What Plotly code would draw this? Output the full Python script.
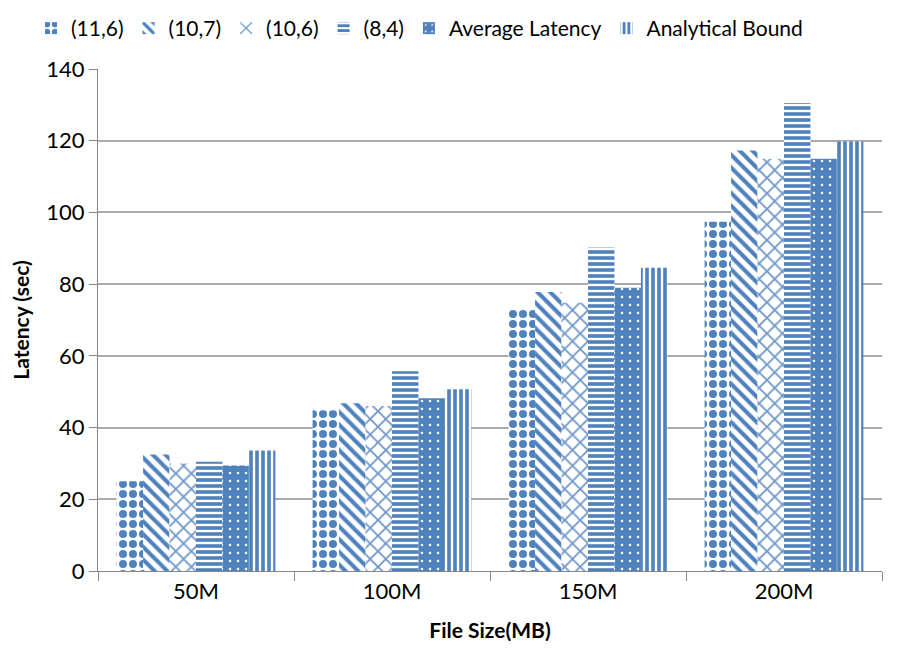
import plotly.graph_objects as go

categories = ["50M", "100M", "150M", "200M"]
series_names = ["(11,6)", "(10,7)", "(10,6)", "(8,4)", "Average Latency", "Analytical Bound"]
v_11_6 = [25.0, 44.8, 73.1, 97.4]
v_10_7 = [32.5, 46.8, 77.8, 117.3]
v_10_6 = [30.0, 46.0, 74.8, 115.0]
v_8_4 = [30.5, 55.7, 90.2, 130.5]
v_avg = [29.4, 48.2, 79.0, 115.0]
v_bound = [33.6, 50.7, 84.6, 119.8]
y_ticks = [0, 20, 40, 60, 80, 100, 120, 140]

BLUE = "#4f81bd"
values = [v_11_6, v_10_7, v_10_6, v_8_4, v_avg, v_bound]
patterns = [
    dict(shape=".", fgcolor=BLUE, bgcolor="white", size=10, solidity=0.5),
    dict(shape="\\", fgcolor=BLUE, bgcolor="white", size=9, solidity=0.45),
    dict(shape="x", fgcolor="#6f97c9", bgcolor="white", size=11, solidity=0.3),
    dict(shape="-", fgcolor=BLUE, bgcolor="white", size=6, solidity=0.6),
    dict(shape=".", fgcolor="white", bgcolor=BLUE, size=8, solidity=0.08),
    dict(shape="|", fgcolor=BLUE, bgcolor="white", size=6, solidity=0.6),
]

fig = go.Figure()
for name, vals, pat in zip(series_names, values, patterns):
    fig.add_trace(go.Bar(
        x=categories, y=vals, name=name,
        marker=dict(color=BLUE, line=dict(width=0), pattern=dict(fillmode="replace", **pat)),
    ))

font = "Lato, sans-serif"
fig.update_layout(
    width=920, height=670,
    barmode="group", bargap=0.19, bargroupgap=0,
    paper_bgcolor="white", plot_bgcolor="white",
    margin=dict(l=90, r=46, t=61, b=107, autoexpand=False),
    font=dict(family=font, size=22, color="black"),
    legend=dict(orientation="h", xref="container", yref="container", x=0.025, y=1.0,
                xanchor="left", yanchor="top", font=dict(size=21), itemwidth=30,
                tracegroupgap=0),
    xaxis=dict(
        title=dict(text="<b>File Size(MB)</b>", font=dict(size=21), standoff=20),
        showline=True, linecolor="#878787", linewidth=1.3,
        ticks="outside", tickson="boundaries", ticklen=9, tickcolor="#878787",
        showgrid=False,
    ),
    yaxis=dict(
        title=dict(text="<b>Latency (sec)</b>", font=dict(size=21), standoff=12),
        range=[0, 140], tickvals=y_ticks,
        showline=True, linecolor="#878787", linewidth=1.3,
        ticks="outside", ticklen=8, tickcolor="#878787",
        showgrid=True, gridcolor="#ababab", gridwidth=1.5,
        zeroline=False,
    ),
)

fig.write_html("out.html")
